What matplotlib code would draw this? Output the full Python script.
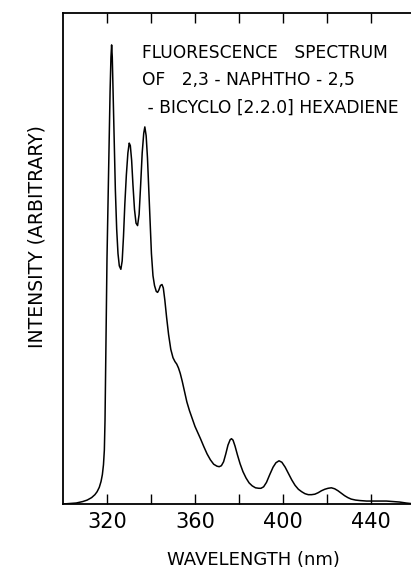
import matplotlib
matplotlib.use("Agg")
import matplotlib.pyplot as plt
from matplotlib.ticker import FixedLocator, FixedFormatter

plt.rcParams['font.family'] = ['DejaVu Sans']

# Fluorescence spectrum (wavelength nm, arbitrary intensity)
wavelength = [
    300.0, 303.0, 306.0, 309.0, 311.0, 313.0, 314.5, 315.5, 316.5, 317.3,
    317.9, 318.4, 318.8, 319.1, 319.4, 319.7, 320.0, 320.4, 320.9, 321.4,
    321.8, 322.1, 322.4, 322.8, 323.3, 323.8, 324.4, 325.0, 325.6, 326.3,
    326.9, 327.5, 328.1, 328.8, 329.5, 330.1, 330.6, 331.2, 331.8, 332.5,
    333.2, 333.9, 334.6, 335.3, 336.0, 336.7, 337.2, 337.8, 338.4, 339.0,
    339.6, 340.2, 340.9, 341.6, 342.4, 343.0, 343.6, 344.3, 345.0, 345.6,
    346.3, 347.1, 348.0, 349.0, 350.0, 350.9, 351.7, 352.5, 353.3, 354.2,
    355.2, 356.3, 357.5, 358.8, 360.0, 361.3, 362.5, 364.0, 365.5, 367.0,
    368.5, 370.0, 371.0, 372.0, 373.0, 374.0, 375.0, 376.0, 376.6, 377.3,
    378.2, 379.3, 380.5, 381.8, 383.2, 384.6, 386.0, 387.5, 389.0, 390.0,
    391.2, 392.5, 394.0, 395.5, 396.8, 398.2, 399.5, 401.0, 402.5, 404.0,
    405.5, 407.0, 408.5, 410.0, 411.5, 413.0, 414.5, 416.0, 417.5, 419.0,
    420.5, 422.0, 423.5, 425.0, 426.5, 428.0, 429.5, 431.0, 433.0, 435.0,
    438.0, 441.0, 444.0, 447.0, 450.0, 453.0, 456.0, 458.0,
]
intensity = [
    0.000, 0.001, 0.002, 0.005, 0.008, 0.013, 0.019, 0.025, 0.034, 0.046,
    0.060, 0.080, 0.110, 0.170, 0.280, 0.400, 0.500, 0.600, 0.720, 0.840,
    0.910, 0.935, 0.910, 0.830, 0.730, 0.640, 0.560, 0.510, 0.485, 0.478,
    0.495, 0.545, 0.610, 0.670, 0.715, 0.735, 0.730, 0.700, 0.650, 0.600,
    0.572, 0.567, 0.590, 0.650, 0.715, 0.755, 0.768, 0.750, 0.705, 0.640,
    0.570, 0.510, 0.465, 0.445, 0.433, 0.431, 0.436, 0.445, 0.447, 0.440,
    0.415, 0.380, 0.345, 0.315, 0.298, 0.290, 0.285, 0.277, 0.266, 0.250,
    0.230, 0.208, 0.190, 0.173, 0.158, 0.145, 0.133, 0.117, 0.102, 0.090,
    0.081, 0.077, 0.076, 0.078, 0.086, 0.102, 0.120, 0.131, 0.133, 0.130,
    0.118, 0.100, 0.082, 0.066, 0.053, 0.043, 0.037, 0.033, 0.032, 0.032,
    0.035, 0.044, 0.060, 0.075, 0.084, 0.088, 0.085, 0.075, 0.062, 0.049,
    0.038, 0.030, 0.025, 0.021, 0.019, 0.019, 0.020, 0.023, 0.027, 0.030,
    0.032, 0.033, 0.031, 0.027, 0.022, 0.017, 0.013, 0.010, 0.008, 0.007,
    0.006, 0.006, 0.006, 0.006, 0.005, 0.004, 0.002, 0.001,
]

major_ticks = [320, 360, 400, 440]
major_labels = ["320", "360", "400", "440"]
minor_ticks = [340, 380, 420]

title_lines = [
    "FLUORESCENCE   SPECTRUM",
    "OF   2,3 - NAPHTHO - 2,5",
    " - BICYCLO [2.2.0] HEXADIENE",
]

fig = plt.figure(figsize=(4.11, 5.70), dpi=100)
ax = fig.add_axes([63/411, 1 - 504/570, 348/411, 491/570])

ax.plot(wavelength, intensity, color="black", lw=1.1)
ax.set_xlim(300, 458.2)
ax.set_ylim(0, 1)

ax.spines['right'].set_visible(False)
for s in ['left', 'top', 'bottom']:
    ax.spines[s].set_linewidth(1.3)

ax.xaxis.set_major_locator(FixedLocator(major_ticks))
ax.xaxis.set_major_formatter(FixedFormatter(major_labels))
ax.xaxis.set_minor_locator(FixedLocator(minor_ticks))
ax.tick_params(axis='x', which='both', direction='in', length=7.5, width=1.0,
               top=True, bottom=True, labelsize=15, pad=6)
ax.set_yticks([])

ax.set_xlabel("WAVELENGTH (nm)", fontsize=13)
ax.xaxis.label.set_va('center')
ax.xaxis.set_label_coords(0.546, -0.114)
ax.set_ylabel("INTENSITY (ARBITRARY)", fontsize=13.5)
ax.yaxis.label.set_va('center')
ax.yaxis.set_label_coords(-0.075, 0.544)

ys = [0.918, 0.864, 0.807]
for line, y in zip(title_lines, ys):
    ax.text(0.228, y, line, transform=ax.transAxes, fontsize=12.3,
            va='center', ha='left')

fig.savefig("out.png", dpi=100)
